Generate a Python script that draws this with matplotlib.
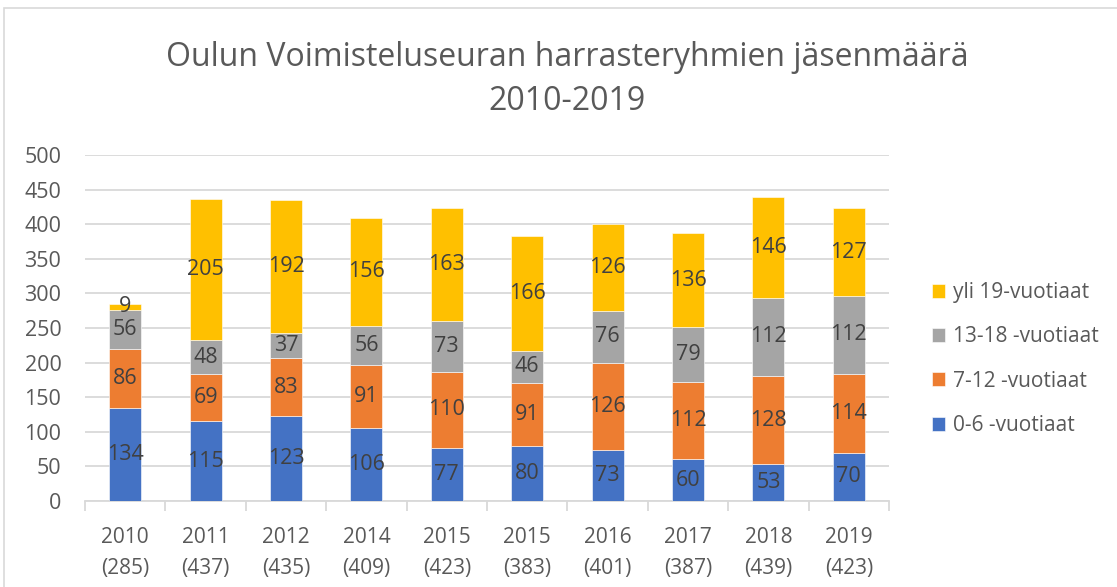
import matplotlib.pyplot as plt
import numpy as np
from matplotlib.patches import Rectangle

plt.rcParams['font.family'] = ['Open Sans', 'DejaVu Sans']

vuodet = ["2010\n(285)", "2011\n(437)", "2012\n(435)", "2014\n(409)", "2015\n(423)",
          "2015\n(383)", "2016\n(401)", "2017\n(387)", "2018\n(439)", "2019\n(423)"]
ika_0_6 = [134, 115, 123, 106, 77, 80, 73, 60, 53, 70]
ika_7_12 = [86, 69, 83, 91, 110, 91, 126, 112, 128, 114]
ika_13_18 = [56, 48, 37, 56, 73, 46, 76, 79, 112, 112]
yli_19 = [9, 205, 192, 156, 163, 166, 126, 136, 146, 127]
sarjat = ["0-6 -vuotiaat", "7-12 -vuotiaat", "13-18 -vuotiaat", "yli 19-vuotiaat"]
varit = ["#4472C4", "#ED7D31", "#A5A5A5", "#FFC000"]

fig = plt.figure(figsize=(11.17, 5.87), dpi=100)
ax = fig.add_axes([85/1117, 1-501/587, 804/1117, 346/587])

# reunus
fig.patches.append(Rectangle((4/1117, -0.1), 1.2, 1-8/587+0.1, transform=fig.transFigure,
                             fill=False, edgecolor="#D9D9D9", linewidth=1.2))

x = np.arange(len(vuodet))
pohja = np.zeros(len(vuodet))
for arvot, nimi, vari in zip([ika_0_6, ika_7_12, ika_13_18, yli_19], sarjat, varit):
    b = ax.bar(x, arvot, 0.4, bottom=pohja, color=vari, label=nimi, zorder=3,
               edgecolor="white", linewidth=0.4)
    ax.bar_label(b, label_type="center", fontsize=15.5, color="#404040")
    pohja = pohja + np.array(arvot)

ax.set_xlim(-0.5, len(vuodet) - 0.5)
ax.set_ylim(0, 500)
ax.set_yticks(range(0, 501, 50))
ax.yaxis.grid(True, color="#D9D9D9", linewidth=1.3, zorder=0)
ax.set_xticks(x)
ax.set_xticklabels(vuodet, fontsize=15, color="#595959", linespacing=1.6)
ax.set_xticks(np.arange(-0.5, len(vuodet)), minor=True)
ax.tick_params(axis="x", which="major", length=0, pad=19)
ax.tick_params(axis="x", which="minor", length=7, color="#D9D9D9", width=1.3)
ax.tick_params(axis="y", length=0, labelsize=15.5, labelcolor="#595959", pad=17)
for s in ["top", "right", "left"]:
    ax.spines[s].set_visible(False)
ax.spines["bottom"].set_color("#D9D9D9")
ax.spines["bottom"].set_linewidth(1.3)

fig.text(567/1117, 1-57/587, "Oulun Voimisteluseuran harrasteryhmien jäsenmäärä",
         ha="center", va="center", fontsize=23, color="#595959")
fig.text(567/1117, 1-101/587, "2010-2019", ha="center", va="center", fontsize=23, color="#595959")

h, l = ax.get_legend_handles_labels()
fig.legend(h[::-1], l[::-1], loc="center left", bbox_to_anchor=(913/1117, 1-359/587),
           frameon=False, fontsize=15, labelcolor="#595959", handlelength=0.65,
           handleheight=0.65, handletextpad=0.35, labelspacing=1.12)

fig.savefig("out.png", dpi=100)
